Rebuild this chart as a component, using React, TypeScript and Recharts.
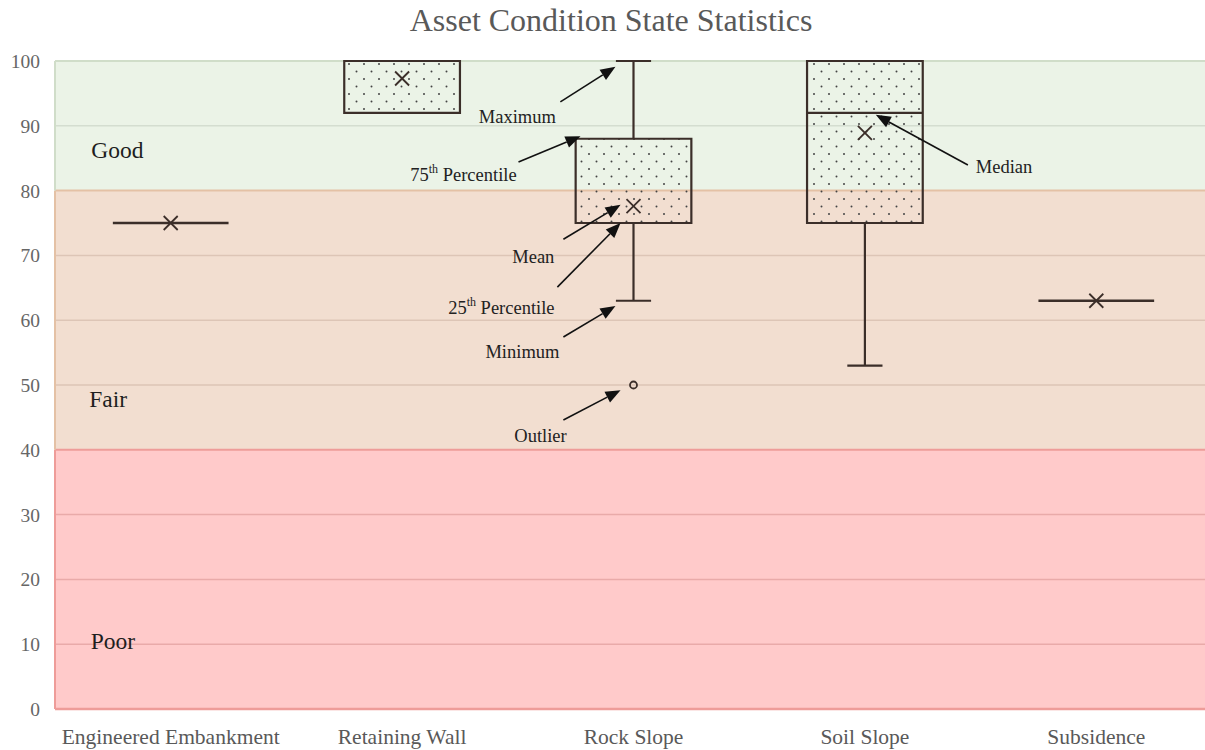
import React from "react";
import {
  ComposedChart,
  XAxis,
  YAxis,
  ReferenceArea,
  ReferenceLine,
  ReferenceDot,
  Scatter,
} from "recharts";

const categories = [
  "Engineered Embankment",
  "Retaining Wall",
  "Rock Slope",
  "Soil Slope",
  "Subsidence",
];
const minValues = [75, 92, 63, 53, 63];
const q1Values = [75, 92, 75, 75, 63];
const medianValues = [75, 100, 75, 92, 63];
const q3Values = [75, 100, 88, 100, 63];
const maxValues = [75, 100, 100, 100, 63];
const meanValues = [75, 97.3, 77.6, 88.9, 63];
const outlierCategories = ["Rock Slope"];
const outlierValues = [50];

const yTicks = [0, 10, 20, 30, 40, 50, 60, 70, 80, 90, 100];
const zoneNames = ["Poor", "Fair", "Good"];
const zoneBounds = [0, 40, 80, 100];

const SERIF = "'Liberation Serif', 'DejaVu Serif', serif";
const INK = "#3b2e29";
const ZONE_FILL = ["#FFCACA", "#F2DED0", "#EBF3E7"];
const ZONE_GRID = ["#E9AAA9", "#DDC5B6", "#D4DDD0"];
const ZONE_EDGE = ["#EE9C99", "#E4C1A5", "#D0DDC9"];

// label spots for the zone names, in chart units
const zoneLabelAt = [
  { x: 0.25, y: 10.5 },
  { x: 0.23, y: 47.8 },
  { x: 0.27, y: 86.3 },
];

// explanatory arrows (tail -> tip) and their captions, in chart units
const guides = [
  { text: "Maximum", from: [2.184, 93.7], to: [2.422, 99.1], at: [1.998, 91.4], anchor: "middle" },
  { text: "75th Percentile", from: [2.003, 84.4], to: [2.271, 88.4], at: [1.765, 82.4], anchor: "middle" },
  { text: "Mean", from: [2.197, 72.5], to: [2.444, 77.8], at: [2.067, 69.8], anchor: "middle" },
  { text: "25th Percentile", from: [2.171, 65.1], to: [2.444, 75.0], at: [1.929, 61.9], anchor: "middle" },
  { text: "Minimum", from: [2.197, 57.4], to: [2.422, 62.2], at: [2.02, 55.1], anchor: "middle" },
  { text: "Outlier", from: [2.197, 44.6], to: [2.444, 49.2], at: [2.098, 42.1], anchor: "middle" },
  { text: "Median", from: [3.945, 83.95], to: [3.547, 91.7], at: [3.979, 83.6], anchor: "start" },
];

const BOX_HALF = 0.25;
const CAP_HALF = 0.076;

const Arrow = (props: any) => {
  const { x1, y1, x2, y2 } = props;
  const ang = Math.atan2(y2 - y1, x2 - x1);
  const len = 15;
  const half = 6;
  const bx = x2 - len * Math.cos(ang);
  const by = y2 - len * Math.sin(ang);
  const px = -Math.sin(ang) * half;
  const py = Math.cos(ang) * half;
  return (
    <g>
      <line x1={x1} y1={y1} x2={bx} y2={by} stroke="#111" strokeWidth={1.6} />
      <polygon points={`${x2},${y2} ${bx + px},${by + py} ${bx - px},${by - py}`} fill="#111" />
    </g>
  );
};

const guideText = (text: string, anchor: string) => (props: any) => {
  const { cx, cy } = props;
  const m = text.match(/^(\d+)th (.*)$/);
  return (
    <text
      x={cx}
      y={cy}
      textAnchor={anchor as any}
      dominantBaseline="central"
      fontFamily={SERIF}
      fontSize={18.5}
      fill="#222"
    >
      {m ? (
        <>
          {m[1]}
          <tspan fontSize={12} dy={-6}>th</tspan>
          <tspan dy={6}>{" " + m[2]}</tspan>
        </>
      ) : (
        text
      )}
    </text>
  );
};

const zoneText = (text: string) => (props: any) => (
  <text
    x={props.cx}
    y={props.cy}
    textAnchor="middle"
    dominantBaseline="central"
    fontFamily={SERIF}
    fontSize={23.5}
    fill="#1e1e1e"
  >
    {text}
  </text>
);

const MeanMark = (props: any) => {
  const { cx, cy } = props;
  const s = 7;
  return (
    <g stroke={INK} strokeWidth={1.8}>
      <line x1={cx - s} y1={cy - s} x2={cx + s} y2={cy + s} />
      <line x1={cx - s} y1={cy + s} x2={cx + s} y2={cy - s} />
    </g>
  );
};

const OutlierMark = (props: any) => (
  <circle cx={props.cx} cy={props.cy} r={3.5} fill="none" stroke={INK} strokeWidth={1.8} />
);

export default function App() {
  const meanData = categories.map((c, i) => ({ x: i + 0.5, y: meanValues[i] }));
  const outlierData = outlierCategories.map((c, i) => ({
    x: categories.indexOf(c) + 0.5,
    y: outlierValues[i],
  }));
  const gridValues = yTicks.filter((v) => !zoneBounds.includes(v));
  const zoneOf = (v: number) => (v < 40 ? 0 : v < 80 ? 1 : 2);

  return (
    <div
      style={{
        position: "fixed",
        left: 0,
        top: 0,
        width: 1205,
        height: 750,
        overflow: "hidden",
        background: "#fff",
      }}
    >
      <div
        style={{
          position: "absolute",
          left: 0,
          top: 1,
          width: 1222,
          textAlign: "center",
          fontFamily: SERIF,
          fontSize: 32,
          lineHeight: "38px",
          color: "#595959",
        }}
      >
        Asset Condition State Statistics
      </div>
      <ComposedChart width={1212} height={750} margin={{ top: 61, right: 0, bottom: 0, left: 0 }}>
        <defs>
          <pattern id="dots" patternUnits="userSpaceOnUse" width={15} height={15}>
            <circle cx={4} cy={4} r={1} fill="#444" />
            <circle cx={11.5} cy={11.5} r={1} fill="#444" />
          </pattern>
        </defs>
        <XAxis
          type="number"
          dataKey="x"
          domain={[0, 5]}
          allowDataOverflow
          ticks={categories.map((_, i) => i + 0.5)}
          interval={0}
          tickFormatter={(v: number) => categories[Math.floor(v)]}
          axisLine={false}
          tickLine={false}
          height={41}
          tickMargin={14}
          tick={{ fill: "#595959", fontSize: 21.5, fontFamily: SERIF }}
        />
        <YAxis
          type="number"
          dataKey="y"
          domain={[0, 100]}
          allowDataOverflow
          ticks={yTicks}
          interval={0}
          axisLine={false}
          tickLine={false}
          width={55}
          tickMargin={9}
          tick={{ fill: "#666", fontSize: 19.5, fontFamily: SERIF }}
        />

        {zoneNames.map((z, i) => (
          <ReferenceArea
            key={"zone" + z}
            x1={0}
            x2={5}
            y1={zoneBounds[i]}
            y2={zoneBounds[i + 1]}
            fill={ZONE_FILL[i]}
            fillOpacity={1}
            stroke="none"
            zIndex={10}
          />
        ))}
        {gridValues.map((v) => (
          <ReferenceLine
            key={"grid" + v}
            y={v}
            stroke={ZONE_GRID[zoneOf(v)]}
            strokeWidth={1.5}
            zIndex={20}
          />
        ))}
        {zoneNames.map((z, i) => (
          <ReferenceLine
            key={"top" + z}
            y={zoneBounds[i + 1]}
            stroke={ZONE_EDGE[i]}
            strokeWidth={2}
            zIndex={30}
          />
        ))}
        <ReferenceLine y={0} stroke={ZONE_EDGE[0]} strokeWidth={2.5} zIndex={30} />
        {zoneNames.map((z, i) => (
          <ReferenceLine
            key={"left" + z}
            segment={[
              { x: 0, y: zoneBounds[i] },
              { x: 0, y: zoneBounds[i + 1] },
            ]}
            stroke={ZONE_EDGE[i]}
            strokeWidth={2}
            zIndex={30}
          />
        ))}

        {categories.map((c, i) => {
          const cx = i + 0.5;
          const parts: React.ReactNode[] = [];
          if (q3Values[i] > q1Values[i]) {
            parts.push(
              <ReferenceArea
                key={"box" + c}
                x1={cx - BOX_HALF}
                x2={cx + BOX_HALF}
                y1={q1Values[i]}
                y2={q3Values[i]}
                fill="url(#dots)"
                fillOpacity={1}
                stroke={INK}
                strokeWidth={2.2}
                zIndex={40}
              />
            );
          } else {
            parts.push(
              <ReferenceLine
                key={"flat" + c}
                segment={[
                  { x: cx - BOX_HALF, y: q1Values[i] },
                  { x: cx + BOX_HALF, y: q1Values[i] },
                ]}
                stroke={INK}
                strokeWidth={2.6}
                zIndex={45}
              />
            );
          }
          if (medianValues[i] > q1Values[i] && medianValues[i] < q3Values[i]) {
            parts.push(
              <ReferenceLine
                key={"med" + c}
                segment={[
                  { x: cx - BOX_HALF, y: medianValues[i] },
                  { x: cx + BOX_HALF, y: medianValues[i] },
                ]}
                stroke={INK}
                strokeWidth={2.2}
                zIndex={45}
              />
            );
          }
          const whiskers: [number, number][] = [];
          if (maxValues[i] > q3Values[i]) whiskers.push([q3Values[i], maxValues[i]]);
          if (minValues[i] < q1Values[i]) whiskers.push([q1Values[i], minValues[i]]);
          whiskers.forEach(([from, end], k) => {
            parts.push(
              <ReferenceLine
                key={"wh" + c + k}
                segment={[
                  { x: cx, y: from },
                  { x: cx, y: end },
                ]}
                stroke={INK}
                strokeWidth={2.2}
                zIndex={45}
              />,
              <ReferenceLine
                key={"cap" + c + k}
                segment={[
                  { x: cx - CAP_HALF, y: end },
                  { x: cx + CAP_HALF, y: end },
                ]}
                stroke={INK}
                strokeWidth={2.2}
                zIndex={45}
              />
            );
          });
          return parts;
        })}

        <Scatter
          data={meanData}
          dataKey="y"
          shape={MeanMark}
          isAnimationActive={false}
          zIndex={60}
        />
        <Scatter
          data={outlierData}
          dataKey="y"
          shape={OutlierMark}
          isAnimationActive={false}
          zIndex={60}
        />

        {guides.map((g) => (
          <ReferenceLine
            key={"arrow" + g.text}
            segment={[
              { x: g.from[0], y: g.from[1] },
              { x: g.to[0], y: g.to[1] },
            ]}
            shape={Arrow}
            zIndex={70}
          />
        ))}
        {guides.map((g) => (
          <ReferenceDot
            key={"cap" + g.text}
            x={g.at[0]}
            y={g.at[1]}
            shape={guideText(g.text, g.anchor)}
            zIndex={80}
          />
        ))}
        {zoneNames.map((z, i) => (
          <ReferenceDot
            key={"zl" + z}
            x={zoneLabelAt[i].x}
            y={zoneLabelAt[i].y}
            shape={zoneText(z)}
            zIndex={80}
          />
        ))}
      </ComposedChart>
    </div>
  );
}
